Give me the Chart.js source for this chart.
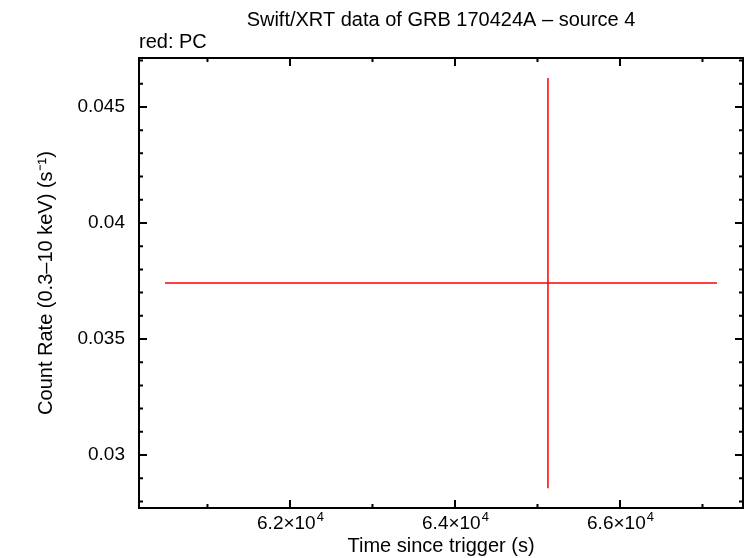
<!DOCTYPE html>
<html>
<head>
<meta charset="utf-8">
<script src="https://cdn.jsdelivr.net/npm/chart.js@4.4.1/dist/chart.umd.min.js"></script>
<style>
  html, body { margin: 0; padding: 0; background: #fff; }
  #wrap { width: 746px; height: 558px; }
</style>
</head>
<body>
<div id="wrap"><canvas id="lc" width="746" height="558"></canvas></div>
<script>
// single PC-mode bin
const times = [65127];
const timeErrNeg = [4642];
const timeErrPos = [2049];
const rates = [0.03741];
const rateErr = [0.00884];

const xMajorTicks = [62000, 64000, 66000];
const xMinorTicks = [61000, 63000, 65000, 67000];
const yMajorTicks = [0.03, 0.035, 0.04, 0.045];
const yMinorTicks = [0.028, 0.029, 0.031, 0.032, 0.033, 0.034, 0.036, 0.037, 0.038, 0.039,
                     0.041, 0.042, 0.043, 0.044, 0.046, 0.047];

const FONT = "'Liberation Sans', Arial, Helvetica, sans-serif";

const frameAndBars = {
    id: "frameAndBars",
    afterDatasetsDraw(chart) {
        const { ctx, chartArea: a, scales: { x, y } } = chart;
        ctx.save();

        // error bars
        ctx.strokeStyle = "#ff0000";
        ctx.lineWidth = 1.5;
        times.forEach((t, i) => {
            const px = x.getPixelForValue(t);
            const py = y.getPixelForValue(rates[i]);
            ctx.beginPath();
            ctx.moveTo(x.getPixelForValue(t - timeErrNeg[i]), py);
            ctx.lineTo(x.getPixelForValue(t + timeErrPos[i]), py);
            ctx.moveTo(px, y.getPixelForValue(rates[i] + rateErr[i]));
            ctx.lineTo(px, y.getPixelForValue(rates[i] - rateErr[i]));
            ctx.stroke();
        });

        // frame
        ctx.strokeStyle = "#000";
        ctx.lineWidth = 2;
        ctx.strokeRect(a.left, a.top, a.right - a.left, a.bottom - a.top);

        // inward ticks on all four sides
        const tick = (vals, len) => {
            vals.forEach(v => {
                const px = x.getPixelForValue(v);
                ctx.beginPath();
                ctx.moveTo(px, a.bottom); ctx.lineTo(px, a.bottom - len);
                ctx.moveTo(px, a.top); ctx.lineTo(px, a.top + len);
                ctx.stroke();
            });
        };
        const ytick = (vals, len) => {
            vals.forEach(v => {
                const py = y.getPixelForValue(v);
                ctx.beginPath();
                ctx.moveTo(a.left, py); ctx.lineTo(a.left + len, py);
                ctx.moveTo(a.right, py); ctx.lineTo(a.right - len, py);
                ctx.stroke();
            });
        };
        tick(xMajorTicks, 8);
        tick(xMinorTicks, 4);
        ytick(yMajorTicks, 8);
        ytick(yMinorTicks, 4);

        ctx.fillStyle = "#000";
        ctx.textBaseline = "alphabetic";

        // x tick labels: mantissa x 10 with a raised exponent
        xMajorTicks.forEach(v => {
            const base = (v / 10000).toFixed(1) + "\u00D710";
            const exp = "4";
            ctx.font = "19px " + FONT;
            const wb = ctx.measureText(base).width;
            ctx.font = "13px " + FONT;
            const we = ctx.measureText(exp).width;
            const left = x.getPixelForValue(v) - (wb + we) / 2;
            ctx.textAlign = "left";
            ctx.font = "19px " + FONT;
            ctx.fillText(base, left, 529);
            ctx.font = "13px " + FONT;
            ctx.fillText(exp, left + wb + 1, 521);
        });

        // titles
        ctx.textBaseline = "middle";
        ctx.font = "20px " + FONT;
        ctx.textAlign = "center";
        ctx.fillText("Swift/XRT data of GRB 170424A \u2013 source 4", (a.left + a.right) / 2, 20);
        ctx.textAlign = "left";
        ctx.fillText("red: PC", a.left, 42);

        ctx.textAlign = "center";
        ctx.fillText("Time since trigger (s)", (a.left + a.right) / 2, 546);
        ctx.translate(46, (a.top + a.bottom) / 2);
        ctx.rotate(-Math.PI / 2);
        ctx.fillText("Count Rate (0.3\u201310 keV) (s\u207B\u00B9)", 0, 0);
        ctx.restore();
    }
};

new Chart(document.getElementById("lc"), {
    type: "scatter",
    data: {
        datasets: [{
            label: "PC",
            data: times.map((t, i) => ({ x: t, y: rates[i] })),
            pointRadius: 0,
            showLine: false
        }]
    },
    options: {
        responsive: false,
        animation: false,
        layout: { padding: { top: 58, right: 3, left: 0, bottom: 0 } },
        plugins: { legend: { display: false }, tooltip: { enabled: false } },
        scales: {
            x: {
                type: "linear",
                min: 60170,
                max: 67491,
                grid: { display: false, drawTicks: false },
                border: { display: false },
                afterBuildTicks: s => { s.ticks = xMajorTicks.map(v => ({ value: v })); },
                afterFit: s => { s.height = 50; },
                ticks: { display: false }
            },
            y: {
                type: "linear",
                min: 0.027716,
                max: 0.04711,
                grid: { display: false, drawTicks: false },
                border: { display: false },
                afterBuildTicks: s => { s.ticks = yMajorTicks.map(v => ({ value: v })); },
                afterFit: s => { s.width = 139; },
                ticks: {
                    padding: 14,
                    color: "#000",
                    font: { family: FONT, size: 19 },
                    callback: v => String(+v.toFixed(3))
                }
            }
        }
    },
    plugins: [frameAndBars]
});
</script>
</body>
</html>
